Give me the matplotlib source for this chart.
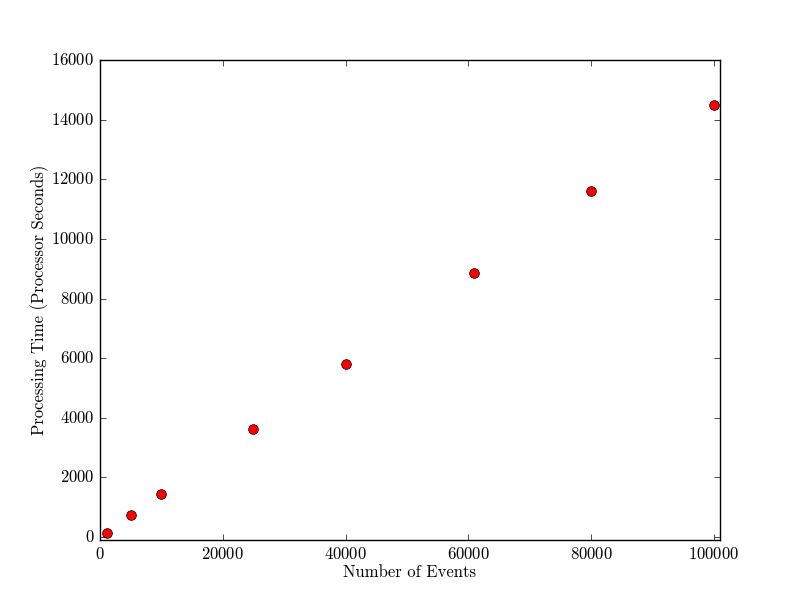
import matplotlib
matplotlib.use('Agg')
import matplotlib.pyplot as plt

plt.style.use('classic')
plt.rcParams['font.family'] = 'serif'
plt.rcParams['font.serif'] = ['cmr10', 'DejaVu Serif']
plt.rcParams['mathtext.fontset'] = 'cm'
plt.rcParams['axes.formatter.use_mathtext'] = True

events = [1100, 5000, 10000, 25000, 40000, 61000, 80000, 100000]
seconds = [130, 735, 1440, 3620, 5800, 8855, 11605, 14495]

fig = plt.figure(figsize=(8, 6), dpi=100)
fig.patch.set_facecolor('white')
ax = fig.add_subplot(111)
ax.plot(events, seconds, 'o', color='red', markeredgecolor='black', markersize=7)
ax.set_xlim(0, 101000)
ax.set_ylim(-100, 16000)
ax.set_xlabel('Number of Events', labelpad=2)
ax.set_ylabel('Processing Time (Processor Seconds)', labelpad=1.5)
plt.savefig('out.png', dpi=100, facecolor='white')
